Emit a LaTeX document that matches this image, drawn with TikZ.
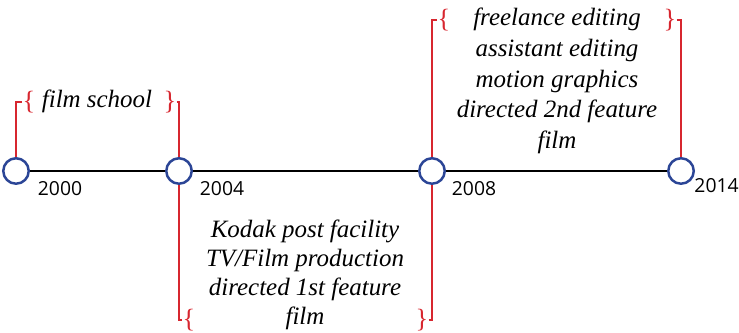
\documentclass[tikz,border=0pt]{standalone}
\usepackage{fontspec}
\setmainfont{Liberation Serif}
\newfontfamily\yearfont{Open Sans}
\usetikzlibrary{positioning}
\definecolor{stopblue}{HTML}{2B4596}
\definecolor{bracered}{HTML}{D7262F}

\begin{document}
\begin{tikzpicture}[x=0.02cm,y=0.02cm]
	\tikzset{
		stop/.style={circle,draw=stopblue,line width=1.4pt,fill=white,minimum size=0.51cm,inner sep=0pt},
		year/.style={font=\yearfont\fontsize{11}{13}\selectfont},
		era/.style={align=center,font=\itshape\fontsize{14.2}{16.5}\selectfont},
		brace/.style={text=bracered,font=\fontsize{15}{15}\selectfont,inner sep=0pt},
		link/.style={draw=bracered,line width=1.3pt}
	}
	\useasboundingbox (0,0) rectangle (739,333);
	% stops on the time line
	\node[stop] (c2000) at (16,162) {};
	\node[stop] (c2004) at (179,162) {};
	\node[stop] (c2008) at (432,162) {};
	\node[stop] (c2014) at (681,162) {};
	\draw[line width=1.5pt] (c2000) -- (c2004) -- (c2008) -- (c2014);
	\node[year] (y2000) at (60,144) {2000};
	\node[year] (y2004) at (222,144) {2004};
	\node[year] (y2008) at (474,144) {2008};
	\node[year,anchor=east,inner sep=0pt] (y2014) at (739,147) {2014};
	% periods
	\node[brace] (b1l) at (29,231) {\{};
	\node[brace] (b1r) at (170,231) {\}};
	\node[era] (e1) at (97,232) {film school};
	\node[brace] (b2l) at (189,13) {\{};
	\node[brace] (b2r) at (422,13) {\}};
	\node[era] (e2) at (305,58) {Kodak post facility\\TV/Film production\\directed 1st feature\\film};
	\node[brace] (b3l) at (444,313) {\{};
	\node[brace] (b3r) at (670,313) {\}};
	\node[era,font=\itshape\fontsize{14.2}{17.4}\selectfont] (e3) at (557,252) {freelance editing\\assistant editing\\motion graphics\\directed 2nd feature\\film};
	\draw[link] (c2000) |- (b1l);
	\draw[link] (b1r) -| (c2004);
	\draw[link] (c2004) |- (b2l);
	\draw[link] (b2r) -| (c2008);
	\draw[link] (c2008) |- (b3l);
	\draw[link] (b3r) -| (c2014);
\end{tikzpicture}
\end{document}
